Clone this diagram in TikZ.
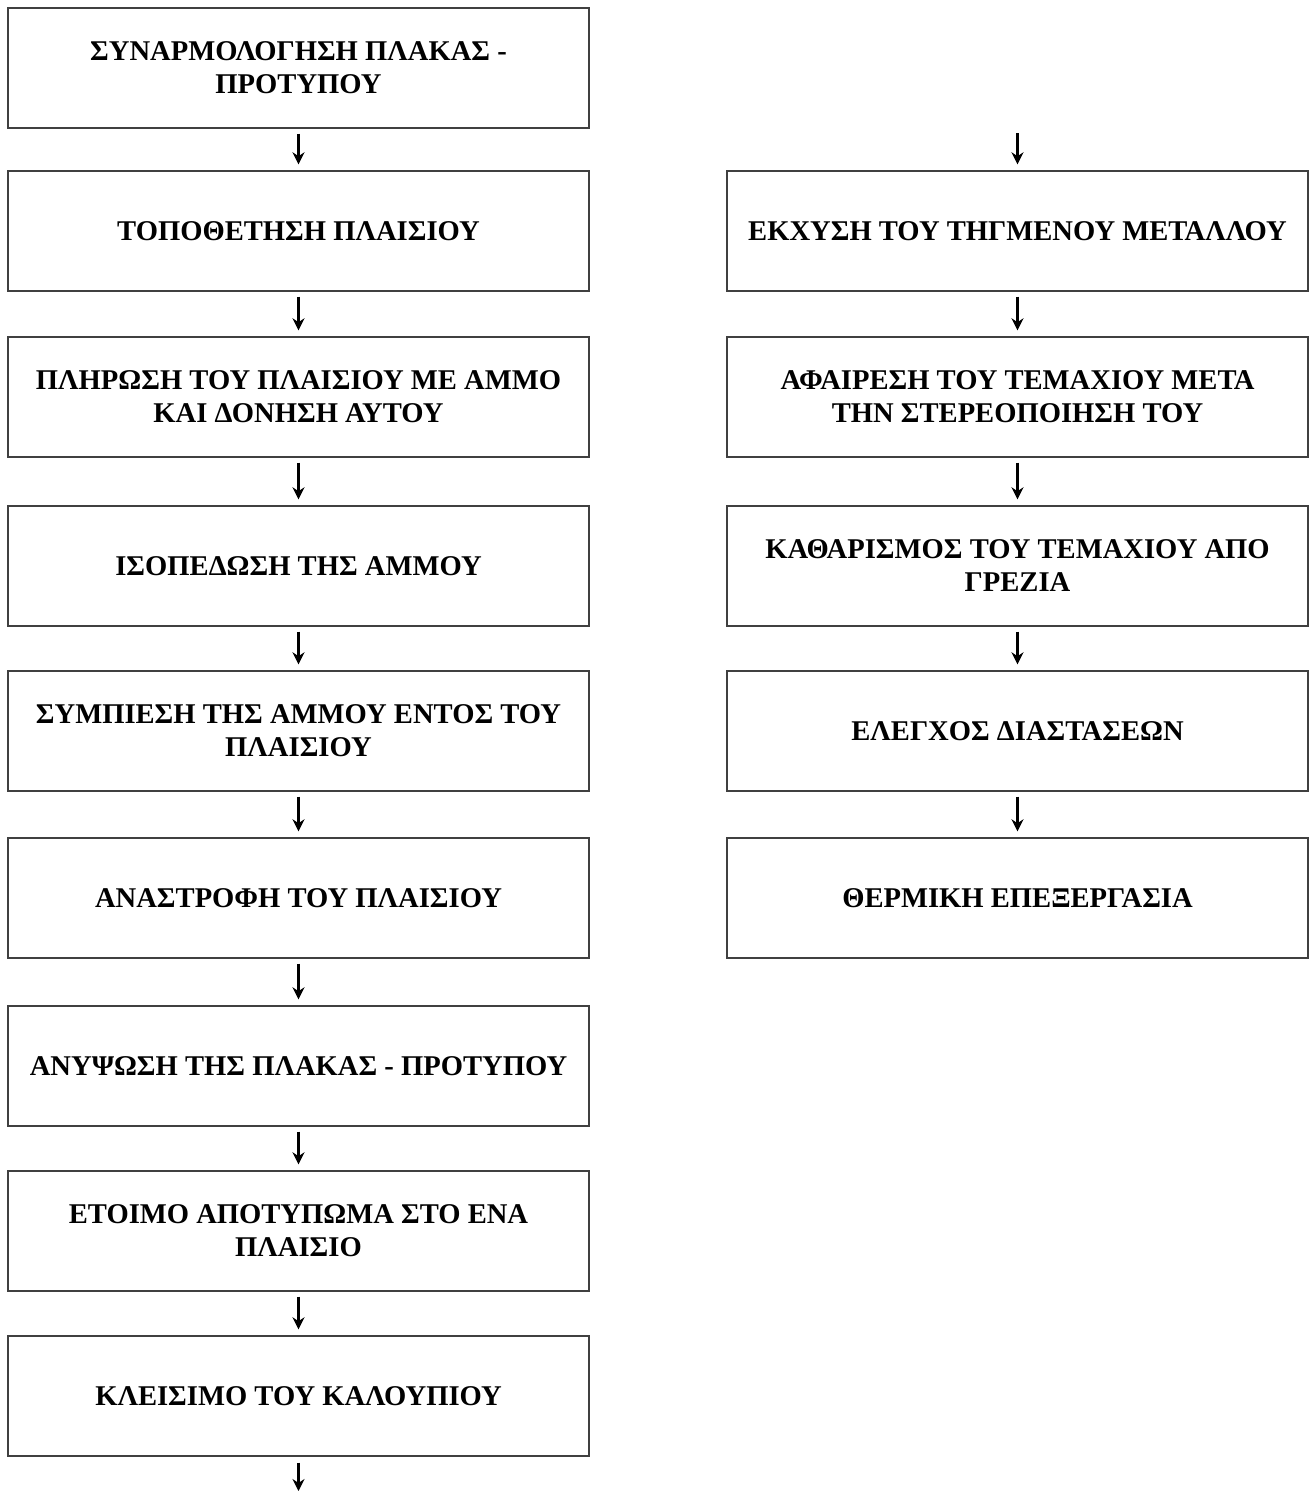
\documentclass[tikz,border=0pt]{standalone}
\usepackage{fontspec}
\setmainfont{Liberation Serif}
\usetikzlibrary{arrows.meta}
\begin{document}
\begin{tikzpicture}[x=1pt,y=-1pt,
  stepbox/.style={draw=black!75,line width=1.4pt,minimum width=581pt,minimum height=120pt,inner sep=0pt,align=center,font=\fontsize{28.6}{33}\selectfont\bfseries},
  arr/.style={line width=3pt,-{Stealth[length=12pt,width=12pt]}}]
\useasboundingbox (0,0) rectangle (1311,1491);
\node[stepbox] (b1) at (298.5,68) {ΣΥΝΑΡΜΟΛΟΓΗΣΗ ΠΛΑΚΑΣ -\\ΠΡΟΤΥΠΟΥ};
\node[stepbox] (b2) at (298.5,231) {ΤΟΠΟΘΕΤΗΣΗ ΠΛΑΙΣΙΟΥ};
\node[stepbox] (b3) at (298.5,397) {ΠΛΗΡΩΣΗ ΤΟΥ ΠΛΑΙΣΙΟΥ ΜΕ ΑΜΜΟ\\ΚΑΙ ΔΟΝΗΣΗ ΑΥΤΟΥ};
\node[stepbox] (b4) at (298.5,566) {ΙΣΟΠΕΔΩΣΗ ΤΗΣ ΑΜΜΟΥ};
\node[stepbox] (b5) at (298.5,731) {ΣΥΜΠΙΕΣΗ ΤΗΣ ΑΜΜΟΥ ΕΝΤΟΣ ΤΟΥ\\ΠΛΑΙΣΙΟΥ};
\node[stepbox] (b6) at (298.5,898) {ΑΝΑΣΤΡΟΦΗ ΤΟΥ ΠΛΑΙΣΙΟΥ};
\node[stepbox] (b7) at (298.5,1066) {ΑΝΥΨΩΣΗ ΤΗΣ ΠΛΑΚΑΣ - ΠΡΟΤΥΠΟΥ};
\node[stepbox] (b8) at (298.5,1231) {ΕΤΟΙΜΟ ΑΠΟΤΥΠΩΜΑ ΣΤΟ ΕΝΑ\\ΠΛΑΙΣΙΟ};
\node[stepbox] (b9) at (298.5,1396) {ΚΛΕΙΣΙΜΟ ΤΟΥ ΚΑΛΟΥΠΙΟΥ};
\node[stepbox] (r1) at (1017.5,231) {ΕΚΧΥΣΗ ΤΟΥ ΤΗΓΜΕΝΟΥ ΜΕΤΑΛΛΟΥ};
\node[stepbox] (r2) at (1017.5,397) {ΑΦΑΙΡΕΣΗ ΤΟΥ ΤΕΜΑΧΙΟΥ ΜΕΤΑ\\ΤΗΝ ΣΤΕΡΕΟΠΟΙΗΣΗ ΤΟΥ};
\node[stepbox] (r3) at (1017.5,566) {ΚΑΘΑΡΙΣΜΟΣ ΤΟΥ ΤΕΜΑΧΙΟΥ ΑΠΟ\\ΓΡΕΖΙΑ};
\node[stepbox] (r4) at (1017.5,731) {ΕΛΕΓΧΟΣ ΔΙΑΣΤΑΣΕΩΝ};
\node[stepbox] (r5) at (1017.5,898) {ΘΕΡΜΙΚΗ ΕΠΕΞΕΡΓΑΣΙΑ};
\coordinate (rin) at (1017.5,133);
\coordinate (bout) at (298.5,1491);
\foreach \a/\b in {b1/b2,b2/b3,b3/b4,b4/b5,b5/b6,b6/b7,b7/b8,b8/b9,r1/r2,r2/r3,r3/r4,r4/r5}
  \draw[arr] ([yshift=-5pt]\a.south) -- ([yshift=6pt]\b.north);
\draw[arr] (rin) -- ([yshift=6pt]r1.north);
\draw[arr] ([yshift=-6pt]b9.south) -- (bout);
\end{tikzpicture}
\end{document}
